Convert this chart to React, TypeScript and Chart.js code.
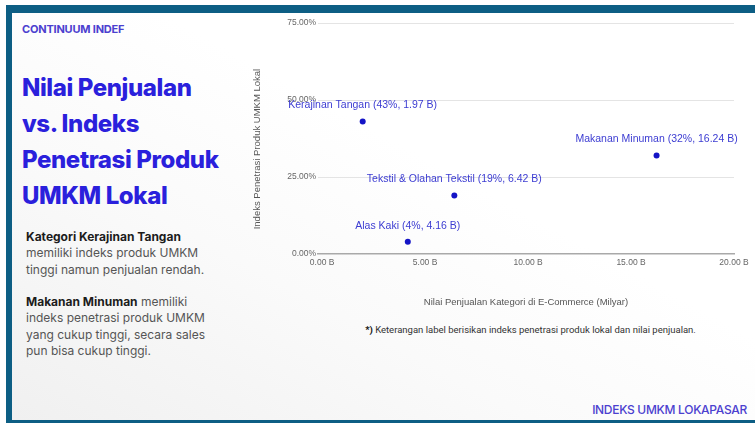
import React, { useEffect, useRef } from "react";
import { Chart, registerables } from "chart.js";

Chart.register(...registerables);

// ---- data ----
const categories = ["Kerajinan Tangan", "Makanan Minuman", "Tekstil & Olahan Tekstil", "Alas Kaki"];
const salesBillions = [1.97, 16.24, 6.42, 4.16];
const penetrationPct = [43, 32, 19, 4];
const xTickValues = [0, 5, 10, 15, 20];
const yTickValues = [0, 25, 50, 75];

const xTitle = "Nilai Penjualan Kategori di E-Commerce (Milyar)";
const yTitle = "Indeks Penetrasi Produk UMKM Lokal";

const pointLabels = categories.map(
  (c, i) => `${c} (${penetrationPct[i]}%, ${salesBillions[i].toFixed(2)} B)`
);

const FONT = "'Liberation Sans', Arial, sans-serif";

const labelPlugin = {
  id: "pointLabels",
  afterDatasetsDraw(chart: any) {
    const ctx = chart.ctx;
    const meta = chart.getDatasetMeta(0);
    ctx.save();
    ctx.font = `10.5px ${FONT}`;
    ctx.fillStyle = "#3c3cd2";
    ctx.textAlign = "center";
    ctx.textBaseline = "middle";
    meta.data.forEach((el: any, i: number) => {
      ctx.fillText(pointLabels[i], el.x, el.y - 16);
    });
    ctx.restore();
  },
};

function ScatterChart() {
  const ref = useRef<HTMLCanvasElement | null>(null);
  useEffect(() => {
    if (!ref.current) return;
    const chart = new Chart(ref.current, {
      type: "scatter",
      data: {
        datasets: [
          {
            data: salesBillions.map((x, i) => ({ x, y: penetrationPct[i] })),
            backgroundColor: "#1414c6",
            borderColor: "#1414c6",
            pointRadius: 3,
            pointBorderWidth: 0,
          },
        ],
      },
      options: {
        animation: false,
        responsive: true,
        maintainAspectRatio: false,
        layout: { padding: { top: 23, right: 21, bottom: 2, left: 0 } },
        plugins: { legend: { display: false }, tooltip: { enabled: false } },
        scales: {
          x: {
            type: "linear",
            min: -0.2,
            max: 20,
            afterBuildTicks: (s: any) => {
              s.ticks = xTickValues.map((v) => ({ value: v }));
            },
            afterFit: (s: any) => {
              s.height = 54;
            },
            grid: { display: false, drawTicks: false },
            border: { display: true, color: "#a9a9a9", width: 1.5 },
            ticks: {
              padding: 4,
              color: "#666",
              font: { family: FONT, size: 8.5 },
              maxRotation: 0,
              autoSkip: false,
              callback: (v: any) => Number(v).toFixed(2) + " B",
            },
            title: {
              display: true,
              text: xTitle,
              color: "#555",
              font: { family: FONT, size: 9.5 },
              padding: 0,
            },
          },
          y: {
            type: "linear",
            min: 0,
            max: 75,
            afterBuildTicks: (s: any) => {
              s.ticks = yTickValues.map((v) => ({ value: v }));
            },
            afterFit: (s: any) => {
              s.width = 74;
            },
            grid: {
              drawTicks: false,
              color: (c: any) => (c.tick && c.tick.value === 0 ? "rgba(0,0,0,0)" : "#e4e4e4"),
            },
            border: { display: false },
            ticks: {
              padding: 2,
              color: "#666",
              font: { family: FONT, size: 8.5 },
              callback: (v: any) => Number(v).toFixed(2) + "%",
            },
            title: {
              display: true,
              text: yTitle + "\u00a0\u00a0\u00a0\u00a0\u00a0\u00a0\u00a0\u00a0",
              color: "#555",
              font: { family: FONT, size: 9.5 },
              padding: { top: 8, bottom: 0 },
            },
          },
        },
      },
      plugins: [labelPlugin],
    } as any);
    return () => chart.destroy();
  }, []);
  return <canvas ref={ref} />;
}

export default function App() {
  const ui = "Inter, 'Noto Sans', sans-serif";
  return (
    <div
      style={{
        position: "fixed",
        left: 0,
        top: 0,
        width: 755,
        height: 423,
        overflow: "hidden",
        background: "#ffffff",
        fontFamily: ui,
      }}
    >
      {/* frame */}
      <div style={{ position: "absolute", left: 6, top: 5, right: 0, bottom: 0, background: "#0d5e84" }} />
      <div
        style={{
          position: "absolute",
          left: 12,
          top: 13,
          right: 0,
          bottom: 3,
          background: "linear-gradient(to top right, #f0f0f0 0%, #fafafa 35%, #ffffff 60%)",
        }}
      />
      {/* header */}
      <div
        style={{
          position: "absolute",
          left: 22,
          top: 22,
          fontSize: 11,
          fontWeight: 700,
          color: "#4b40cf",
          letterSpacing: -0.2,
          whiteSpace: "nowrap",
        }}
      >
        CONTINUUM INDEF
      </div>
      {/* title */}
      <div
        style={{
          position: "absolute",
          left: 22,
          top: 70,
          fontSize: 24,
          lineHeight: "36px",
          fontWeight: 800,
          color: "#2a20dc",
          letterSpacing: -0.4,
          whiteSpace: "nowrap",
        }}
      >
        Nilai Penjualan
        <br />
        vs. Indeks
        <br />
        Penetrasi Produk
        <br />
        UMKM Lokal
      </div>
      {/* body */}
      <div
        style={{
          position: "absolute",
          left: 26,
          top: 229,
          fontSize: 12,
          lineHeight: "16.3px",
          color: "#555",
          whiteSpace: "nowrap",
        }}
      >
        <b style={{ color: "#1c1c1c" }}>Kategori Kerajinan Tangan</b>
        <br />
        memiliki indeks produk UMKM
        <br />
        tinggi namun penjualan rendah.
        <br />
        <br />
        <b style={{ color: "#1c1c1c" }}>Makanan Minuman</b> memiliki
        <br />
        indeks penetrasi produk UMKM
        <br />
        yang cukup tinggi, secara sales
        <br />
        pun bisa cukup tinggi.
      </div>
      {/* chart */}
      <div style={{ position: "absolute", left: 244, top: 0, width: 511, height: 310 }}>
        <ScatterChart />
      </div>
      {/* footnote */}
      <div
        style={{
          position: "absolute",
          left: 300,
          width: 461,
          top: 324,
          textAlign: "center",
          fontSize: 9.5,
          fontFamily: "Roboto, sans-serif",
          color: "#333",
          whiteSpace: "nowrap",
        }}
      >
        <b style={{ color: "#111" }}>*)</b> Keterangan label berisikan indeks penetrasi produk lokal dan nilai penjualan.
      </div>
      {/* bottom right */}
      <div
        style={{
          position: "absolute",
          right: 8,
          top: 402,
          fontSize: 12,
          fontWeight: 500,
          color: "#4b40cf",
          letterSpacing: -0.3,
          whiteSpace: "nowrap",
        }}
      >
        INDEKS UMKM LOKAPASAR
      </div>
    </div>
  );
}
